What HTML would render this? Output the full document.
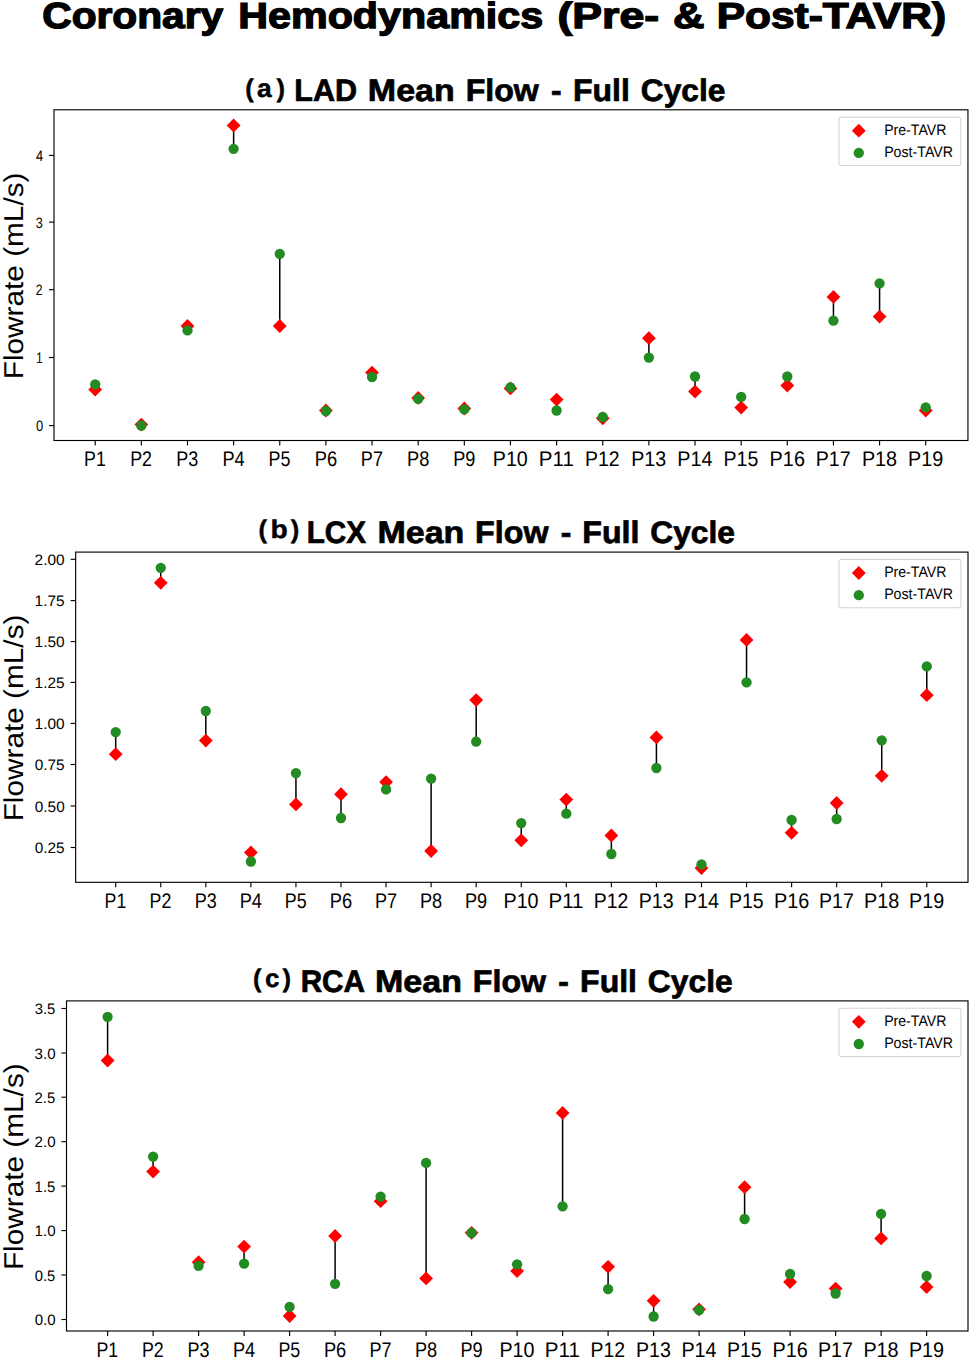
<!DOCTYPE html>
<html><head><meta charset="utf-8"><title>Coronary Hemodynamics (Pre- &amp; Post-TAVR)</title>
<style>
html,body{margin:0;padding:0;background:#fff;}
body{width:971px;height:1360px;overflow:hidden;}
svg{display:block;}
text{font-family:"Liberation Sans",sans-serif;fill:#000;}
.b{font-weight:bold;}
</style></head><body>
<svg width="971" height="1360" viewBox="0 0 971 1360" text-rendering="geometricPrecision">
<rect width="971" height="1360" fill="#fff"/>
<text class="b" x="42.26" y="28" font-size="36.3" textLength="181.02" lengthAdjust="spacingAndGlyphs" stroke="#000" stroke-width="1.3">Coronary</text>
<text class="b" x="238.31" y="28" font-size="36.3" textLength="304.84" lengthAdjust="spacingAndGlyphs" stroke="#000" stroke-width="1.3">Hemodynamics</text>
<text class="b" x="557.46" y="28" font-size="36.3" textLength="101.6" lengthAdjust="spacingAndGlyphs" stroke="#000" stroke-width="1.3">(Pre-</text>
<text class="b" x="673.1" y="28" font-size="36.3" textLength="31.46" lengthAdjust="spacingAndGlyphs" stroke="#000" stroke-width="1.3">&amp;</text>
<text class="b" x="716.76" y="28" font-size="36.3" textLength="229.31" lengthAdjust="spacingAndGlyphs" stroke="#000" stroke-width="1.3">Post-TAVR)</text>
<g>
<text class="b" x="245.15" y="97" font-size="25.5" stroke="#000" stroke-width="0.4">(</text>
<text class="b" x="257.08" y="97" font-size="25.5" textLength="14.69" lengthAdjust="spacingAndGlyphs" stroke="#000" stroke-width="0.4">a</text>
<text class="b" x="276.38" y="97" font-size="25.5" stroke="#000" stroke-width="0.4">)</text>
<text class="b" x="294.28" y="101" font-size="31.1" textLength="62.81" lengthAdjust="spacingAndGlyphs" stroke="#000" stroke-width="0.7">LAD</text>
<text class="b" x="367.89" y="101" font-size="31.1" textLength="86.83" lengthAdjust="spacingAndGlyphs" stroke="#000" stroke-width="0.7">Mean</text>
<text class="b" x="465.69" y="101" font-size="31.1" textLength="73.16" lengthAdjust="spacingAndGlyphs" stroke="#000" stroke-width="0.7">Flow</text>
<text class="b" x="551.14" y="101" font-size="31.1" textLength="10.54" lengthAdjust="spacingAndGlyphs" stroke="#000" stroke-width="0.7">-</text>
<text class="b" x="573" y="101" font-size="31.1" textLength="56.81" lengthAdjust="spacingAndGlyphs" stroke="#000" stroke-width="0.7">Full</text>
<text class="b" x="640.78" y="101" font-size="31.1" textLength="84.67" lengthAdjust="spacingAndGlyphs" stroke="#000" stroke-width="0.7">Cycle</text>
<text x="-103.75" y="0" font-size="27.3" textLength="206.79" lengthAdjust="spacingAndGlyphs" transform="translate(22.7 275.55) rotate(-90)">Flowrate (mL/s)</text>
<line x1="95.2" y1="389.6" x2="95.2" y2="384.3" stroke="#000" stroke-width="1.5"/>
<line x1="141.34" y1="424.6" x2="141.34" y2="425.5" stroke="#000" stroke-width="1.5"/>
<line x1="187.48" y1="326" x2="187.48" y2="330.4" stroke="#000" stroke-width="1.5"/>
<line x1="233.62" y1="125.5" x2="233.62" y2="148.8" stroke="#000" stroke-width="1.5"/>
<line x1="279.76" y1="326" x2="279.76" y2="253.9" stroke="#000" stroke-width="1.5"/>
<line x1="325.9" y1="410.5" x2="325.9" y2="411" stroke="#000" stroke-width="1.5"/>
<line x1="372.04" y1="372.6" x2="372.04" y2="377" stroke="#000" stroke-width="1.5"/>
<line x1="418.18" y1="397.9" x2="418.18" y2="398.8" stroke="#000" stroke-width="1.5"/>
<line x1="464.32" y1="408.5" x2="464.32" y2="409.3" stroke="#000" stroke-width="1.5"/>
<line x1="510.46" y1="388.4" x2="510.46" y2="387.4" stroke="#000" stroke-width="1.5"/>
<line x1="556.6" y1="399.6" x2="556.6" y2="410.5" stroke="#000" stroke-width="1.5"/>
<line x1="602.74" y1="418.3" x2="602.74" y2="417" stroke="#000" stroke-width="1.5"/>
<line x1="648.88" y1="338.2" x2="648.88" y2="357.6" stroke="#000" stroke-width="1.5"/>
<line x1="695.02" y1="391.6" x2="695.02" y2="376.5" stroke="#000" stroke-width="1.5"/>
<line x1="741.16" y1="407.6" x2="741.16" y2="396.9" stroke="#000" stroke-width="1.5"/>
<line x1="787.3" y1="385.5" x2="787.3" y2="376.5" stroke="#000" stroke-width="1.5"/>
<line x1="833.44" y1="296.9" x2="833.44" y2="320.7" stroke="#000" stroke-width="1.5"/>
<line x1="879.58" y1="316.6" x2="879.58" y2="283.3" stroke="#000" stroke-width="1.5"/>
<line x1="925.72" y1="410.5" x2="925.72" y2="407.3" stroke="#000" stroke-width="1.5"/>
<path d="M95.2 382.7L102.1 389.6L95.2 396.5L88.3 389.6Z" fill="#ff0000"/>
<path d="M141.34 417.7L148.24 424.6L141.34 431.5L134.44 424.6Z" fill="#ff0000"/>
<path d="M187.48 319.1L194.38 326L187.48 332.9L180.58 326Z" fill="#ff0000"/>
<path d="M233.62 118.6L240.52 125.5L233.62 132.4L226.72 125.5Z" fill="#ff0000"/>
<path d="M279.76 319.1L286.66 326L279.76 332.9L272.86 326Z" fill="#ff0000"/>
<path d="M325.9 403.6L332.8 410.5L325.9 417.4L319 410.5Z" fill="#ff0000"/>
<path d="M372.04 365.7L378.94 372.6L372.04 379.5L365.14 372.6Z" fill="#ff0000"/>
<path d="M418.18 391L425.08 397.9L418.18 404.8L411.28 397.9Z" fill="#ff0000"/>
<path d="M464.32 401.6L471.22 408.5L464.32 415.4L457.42 408.5Z" fill="#ff0000"/>
<path d="M510.46 381.5L517.36 388.4L510.46 395.3L503.56 388.4Z" fill="#ff0000"/>
<path d="M556.6 392.7L563.5 399.6L556.6 406.5L549.7 399.6Z" fill="#ff0000"/>
<path d="M602.74 411.4L609.64 418.3L602.74 425.2L595.84 418.3Z" fill="#ff0000"/>
<path d="M648.88 331.3L655.78 338.2L648.88 345.1L641.98 338.2Z" fill="#ff0000"/>
<path d="M695.02 384.7L701.92 391.6L695.02 398.5L688.12 391.6Z" fill="#ff0000"/>
<path d="M741.16 400.7L748.06 407.6L741.16 414.5L734.26 407.6Z" fill="#ff0000"/>
<path d="M787.3 378.6L794.2 385.5L787.3 392.4L780.4 385.5Z" fill="#ff0000"/>
<path d="M833.44 290L840.34 296.9L833.44 303.8L826.54 296.9Z" fill="#ff0000"/>
<path d="M879.58 309.7L886.48 316.6L879.58 323.5L872.68 316.6Z" fill="#ff0000"/>
<path d="M925.72 403.6L932.62 410.5L925.72 417.4L918.82 410.5Z" fill="#ff0000"/>
<circle cx="95.2" cy="384.3" r="5.15" fill="#228b22"/>
<circle cx="141.34" cy="425.5" r="5.15" fill="#228b22"/>
<circle cx="187.48" cy="330.4" r="5.15" fill="#228b22"/>
<circle cx="233.62" cy="148.8" r="5.15" fill="#228b22"/>
<circle cx="279.76" cy="253.9" r="5.15" fill="#228b22"/>
<circle cx="325.9" cy="411" r="5.15" fill="#228b22"/>
<circle cx="372.04" cy="377" r="5.15" fill="#228b22"/>
<circle cx="418.18" cy="398.8" r="5.15" fill="#228b22"/>
<circle cx="464.32" cy="409.3" r="5.15" fill="#228b22"/>
<circle cx="510.46" cy="387.4" r="5.15" fill="#228b22"/>
<circle cx="556.6" cy="410.5" r="5.15" fill="#228b22"/>
<circle cx="602.74" cy="417" r="5.15" fill="#228b22"/>
<circle cx="648.88" cy="357.6" r="5.15" fill="#228b22"/>
<circle cx="695.02" cy="376.5" r="5.15" fill="#228b22"/>
<circle cx="741.16" cy="396.9" r="5.15" fill="#228b22"/>
<circle cx="787.3" cy="376.5" r="5.15" fill="#228b22"/>
<circle cx="833.44" cy="320.7" r="5.15" fill="#228b22"/>
<circle cx="879.58" cy="283.3" r="5.15" fill="#228b22"/>
<circle cx="925.72" cy="407.3" r="5.15" fill="#228b22"/>
<rect x="54" y="109.8" width="913.95" height="330.7" fill="none" stroke="#000" stroke-width="1.14"/>
<line x1="95.2" y1="440.5" x2="95.2" y2="445.5" stroke="#000" stroke-width="1.14"/>
<text x="84.05" y="466.1" font-size="21.2" textLength="21.71" lengthAdjust="spacingAndGlyphs">P1</text>
<line x1="141.34" y1="440.5" x2="141.34" y2="445.5" stroke="#000" stroke-width="1.14"/>
<text x="130.19" y="466.1" font-size="21.2" textLength="21.77" lengthAdjust="spacingAndGlyphs">P2</text>
<line x1="187.48" y1="440.5" x2="187.48" y2="445.5" stroke="#000" stroke-width="1.14"/>
<text x="176.32" y="466.1" font-size="21.2" textLength="21.99" lengthAdjust="spacingAndGlyphs">P3</text>
<line x1="233.62" y1="440.5" x2="233.62" y2="445.5" stroke="#000" stroke-width="1.14"/>
<text x="222.44" y="466.1" font-size="21.2" textLength="22.28" lengthAdjust="spacingAndGlyphs">P4</text>
<line x1="279.76" y1="440.5" x2="279.76" y2="445.5" stroke="#000" stroke-width="1.14"/>
<text x="268.61" y="466.1" font-size="21.2" textLength="21.82" lengthAdjust="spacingAndGlyphs">P5</text>
<line x1="325.9" y1="440.5" x2="325.9" y2="445.5" stroke="#000" stroke-width="1.14"/>
<text x="314.71" y="466.1" font-size="21.2" textLength="22.37" lengthAdjust="spacingAndGlyphs">P6</text>
<line x1="372.04" y1="440.5" x2="372.04" y2="445.5" stroke="#000" stroke-width="1.14"/>
<text x="360.87" y="466.1" font-size="21.2" textLength="22.1" lengthAdjust="spacingAndGlyphs">P7</text>
<line x1="418.18" y1="440.5" x2="418.18" y2="445.5" stroke="#000" stroke-width="1.14"/>
<text x="407" y="466.1" font-size="21.2" textLength="22.25" lengthAdjust="spacingAndGlyphs">P8</text>
<line x1="464.32" y1="440.5" x2="464.32" y2="445.5" stroke="#000" stroke-width="1.14"/>
<text x="453.14" y="466.1" font-size="21.2" textLength="22.2" lengthAdjust="spacingAndGlyphs">P9</text>
<line x1="510.46" y1="440.5" x2="510.46" y2="445.5" stroke="#000" stroke-width="1.14"/>
<text x="492.79" y="466.1" font-size="21.2" textLength="35" lengthAdjust="spacingAndGlyphs">P10</text>
<line x1="556.6" y1="440.5" x2="556.6" y2="445.5" stroke="#000" stroke-width="1.14"/>
<text x="538.86" y="466.1" font-size="21.2" textLength="35" lengthAdjust="spacingAndGlyphs">P11</text>
<line x1="602.74" y1="440.5" x2="602.74" y2="445.5" stroke="#000" stroke-width="1.14"/>
<text x="585.1" y="466.1" font-size="21.2" textLength="34.52" lengthAdjust="spacingAndGlyphs">P12</text>
<line x1="648.88" y1="440.5" x2="648.88" y2="445.5" stroke="#000" stroke-width="1.14"/>
<text x="631.22" y="466.1" font-size="21.2" textLength="34.95" lengthAdjust="spacingAndGlyphs">P13</text>
<line x1="695.02" y1="440.5" x2="695.02" y2="445.5" stroke="#000" stroke-width="1.14"/>
<text x="677.34" y="466.1" font-size="21.2" textLength="35.22" lengthAdjust="spacingAndGlyphs">P14</text>
<line x1="741.16" y1="440.5" x2="741.16" y2="445.5" stroke="#000" stroke-width="1.14"/>
<text x="723.5" y="466.1" font-size="21.2" textLength="34.79" lengthAdjust="spacingAndGlyphs">P15</text>
<line x1="787.3" y1="440.5" x2="787.3" y2="445.5" stroke="#000" stroke-width="1.14"/>
<text x="769.62" y="466.1" font-size="21.2" textLength="35.32" lengthAdjust="spacingAndGlyphs">P16</text>
<line x1="833.44" y1="440.5" x2="833.44" y2="445.5" stroke="#000" stroke-width="1.14"/>
<text x="815.78" y="466.1" font-size="21.2" textLength="34.84" lengthAdjust="spacingAndGlyphs">P17</text>
<line x1="879.58" y1="440.5" x2="879.58" y2="445.5" stroke="#000" stroke-width="1.14"/>
<text x="861.9" y="466.1" font-size="21.2" textLength="35.2" lengthAdjust="spacingAndGlyphs">P18</text>
<line x1="925.72" y1="440.5" x2="925.72" y2="445.5" stroke="#000" stroke-width="1.14"/>
<text x="908.05" y="466.1" font-size="21.2" textLength="35.16" lengthAdjust="spacingAndGlyphs">P19</text>
<line x1="49" y1="425.6" x2="54" y2="425.6" stroke="#000" stroke-width="1.14"/>
<text x="35.92" y="431.3" font-size="15.15" textLength="7.2" lengthAdjust="spacingAndGlyphs">0</text>
<line x1="49" y1="357.5" x2="54" y2="357.5" stroke="#000" stroke-width="1.14"/>
<text x="35.98" y="363.2" font-size="15.15" textLength="6.74" lengthAdjust="spacingAndGlyphs">1</text>
<line x1="49" y1="289.7" x2="54" y2="289.7" stroke="#000" stroke-width="1.14"/>
<text x="35.85" y="295.4" font-size="15.15" textLength="6.76" lengthAdjust="spacingAndGlyphs">2</text>
<line x1="49" y1="222.1" x2="54" y2="222.1" stroke="#000" stroke-width="1.14"/>
<text x="35.87" y="227.8" font-size="15.15" textLength="7.05" lengthAdjust="spacingAndGlyphs">3</text>
<line x1="49" y1="155.4" x2="54" y2="155.4" stroke="#000" stroke-width="1.14"/>
<text x="35.89" y="161.1" font-size="15.15" textLength="7.16" lengthAdjust="spacingAndGlyphs">4</text>
<rect x="839" y="117.1" width="121.8" height="48.4" rx="2.5" fill="#fff" fill-opacity="0.8" stroke="#d6d6d6" stroke-width="1.1"/>
<path d="M858.8 123.8L865.7 130.7L858.8 137.6L851.9 130.7Z" fill="#ff0000"/>
<circle cx="858.8" cy="152.9" r="5.15" fill="#228b22"/>
<text x="884.13" y="134.6" font-size="15.15" textLength="62.25" lengthAdjust="spacingAndGlyphs">Pre-TAVR</text>
<text x="884.13" y="156.7" font-size="15.15" textLength="68.96" lengthAdjust="spacingAndGlyphs">Post-TAVR</text>
</g>
<g>
<text class="b" x="258.48" y="538" font-size="25.5" stroke="#000" stroke-width="0.4">(</text>
<text class="b" x="270.54" y="538" font-size="25.5" textLength="17.28" lengthAdjust="spacingAndGlyphs" stroke="#000" stroke-width="0.4">b</text>
<text class="b" x="290.77" y="538" font-size="25.5" stroke="#000" stroke-width="0.4">)</text>
<text class="b" x="306.63" y="543" font-size="31.1" textLength="59.47" lengthAdjust="spacingAndGlyphs" stroke="#000" stroke-width="0.7">LCX</text>
<text class="b" x="377.49" y="543" font-size="31.1" textLength="86.83" lengthAdjust="spacingAndGlyphs" stroke="#000" stroke-width="0.7">Mean</text>
<text class="b" x="475.09" y="543" font-size="31.1" textLength="73.36" lengthAdjust="spacingAndGlyphs" stroke="#000" stroke-width="0.7">Flow</text>
<text class="b" x="560.74" y="543" font-size="31.1" textLength="10.54" lengthAdjust="spacingAndGlyphs" stroke="#000" stroke-width="0.7">-</text>
<text class="b" x="582.29" y="543" font-size="31.1" textLength="57.13" lengthAdjust="spacingAndGlyphs" stroke="#000" stroke-width="0.7">Full</text>
<text class="b" x="650.18" y="543" font-size="31.1" textLength="84.87" lengthAdjust="spacingAndGlyphs" stroke="#000" stroke-width="0.7">Cycle</text>
<text x="-103.75" y="0" font-size="27.3" textLength="206.79" lengthAdjust="spacingAndGlyphs" transform="translate(22.7 717.6) rotate(-90)">Flowrate (mL/s)</text>
<line x1="115.7" y1="754.2" x2="115.7" y2="732.1" stroke="#000" stroke-width="1.5"/>
<line x1="160.76" y1="582.8" x2="160.76" y2="567.8" stroke="#000" stroke-width="1.5"/>
<line x1="205.82" y1="740.6" x2="205.82" y2="711" stroke="#000" stroke-width="1.5"/>
<line x1="250.88" y1="852.5" x2="250.88" y2="861.5" stroke="#000" stroke-width="1.5"/>
<line x1="295.94" y1="804.4" x2="295.94" y2="773.1" stroke="#000" stroke-width="1.5"/>
<line x1="341" y1="794.2" x2="341" y2="818" stroke="#000" stroke-width="1.5"/>
<line x1="386.06" y1="782.1" x2="386.06" y2="789.4" stroke="#000" stroke-width="1.5"/>
<line x1="431.12" y1="851" x2="431.12" y2="778.7" stroke="#000" stroke-width="1.5"/>
<line x1="476.18" y1="700.1" x2="476.18" y2="741.6" stroke="#000" stroke-width="1.5"/>
<line x1="521.24" y1="840.3" x2="521.24" y2="823.1" stroke="#000" stroke-width="1.5"/>
<line x1="566.3" y1="799.6" x2="566.3" y2="813.7" stroke="#000" stroke-width="1.5"/>
<line x1="611.36" y1="835.5" x2="611.36" y2="854" stroke="#000" stroke-width="1.5"/>
<line x1="656.42" y1="737.4" x2="656.42" y2="768" stroke="#000" stroke-width="1.5"/>
<line x1="701.48" y1="868" x2="701.48" y2="864.4" stroke="#000" stroke-width="1.5"/>
<line x1="746.54" y1="639.9" x2="746.54" y2="682.3" stroke="#000" stroke-width="1.5"/>
<line x1="791.6" y1="832.8" x2="791.6" y2="820" stroke="#000" stroke-width="1.5"/>
<line x1="836.66" y1="803" x2="836.66" y2="819" stroke="#000" stroke-width="1.5"/>
<line x1="881.72" y1="775.8" x2="881.72" y2="740.3" stroke="#000" stroke-width="1.5"/>
<line x1="926.78" y1="695.2" x2="926.78" y2="666.3" stroke="#000" stroke-width="1.5"/>
<path d="M115.7 747.3L122.6 754.2L115.7 761.1L108.8 754.2Z" fill="#ff0000"/>
<path d="M160.76 575.9L167.66 582.8L160.76 589.7L153.86 582.8Z" fill="#ff0000"/>
<path d="M205.82 733.7L212.72 740.6L205.82 747.5L198.92 740.6Z" fill="#ff0000"/>
<path d="M250.88 845.6L257.78 852.5L250.88 859.4L243.98 852.5Z" fill="#ff0000"/>
<path d="M295.94 797.5L302.84 804.4L295.94 811.3L289.04 804.4Z" fill="#ff0000"/>
<path d="M341 787.3L347.9 794.2L341 801.1L334.1 794.2Z" fill="#ff0000"/>
<path d="M386.06 775.2L392.96 782.1L386.06 789L379.16 782.1Z" fill="#ff0000"/>
<path d="M431.12 844.1L438.02 851L431.12 857.9L424.22 851Z" fill="#ff0000"/>
<path d="M476.18 693.2L483.08 700.1L476.18 707L469.28 700.1Z" fill="#ff0000"/>
<path d="M521.24 833.4L528.14 840.3L521.24 847.2L514.34 840.3Z" fill="#ff0000"/>
<path d="M566.3 792.7L573.2 799.6L566.3 806.5L559.4 799.6Z" fill="#ff0000"/>
<path d="M611.36 828.6L618.26 835.5L611.36 842.4L604.46 835.5Z" fill="#ff0000"/>
<path d="M656.42 730.5L663.32 737.4L656.42 744.3L649.52 737.4Z" fill="#ff0000"/>
<path d="M701.48 861.1L708.38 868L701.48 874.9L694.58 868Z" fill="#ff0000"/>
<path d="M746.54 633L753.44 639.9L746.54 646.8L739.64 639.9Z" fill="#ff0000"/>
<path d="M791.6 825.9L798.5 832.8L791.6 839.7L784.7 832.8Z" fill="#ff0000"/>
<path d="M836.66 796.1L843.56 803L836.66 809.9L829.76 803Z" fill="#ff0000"/>
<path d="M881.72 768.9L888.62 775.8L881.72 782.7L874.82 775.8Z" fill="#ff0000"/>
<path d="M926.78 688.3L933.68 695.2L926.78 702.1L919.88 695.2Z" fill="#ff0000"/>
<circle cx="115.7" cy="732.1" r="5.15" fill="#228b22"/>
<circle cx="160.76" cy="567.8" r="5.15" fill="#228b22"/>
<circle cx="205.82" cy="711" r="5.15" fill="#228b22"/>
<circle cx="250.88" cy="861.5" r="5.15" fill="#228b22"/>
<circle cx="295.94" cy="773.1" r="5.15" fill="#228b22"/>
<circle cx="341" cy="818" r="5.15" fill="#228b22"/>
<circle cx="386.06" cy="789.4" r="5.15" fill="#228b22"/>
<circle cx="431.12" cy="778.7" r="5.15" fill="#228b22"/>
<circle cx="476.18" cy="741.6" r="5.15" fill="#228b22"/>
<circle cx="521.24" cy="823.1" r="5.15" fill="#228b22"/>
<circle cx="566.3" cy="813.7" r="5.15" fill="#228b22"/>
<circle cx="611.36" cy="854" r="5.15" fill="#228b22"/>
<circle cx="656.42" cy="768" r="5.15" fill="#228b22"/>
<circle cx="701.48" cy="864.4" r="5.15" fill="#228b22"/>
<circle cx="746.54" cy="682.3" r="5.15" fill="#228b22"/>
<circle cx="791.6" cy="820" r="5.15" fill="#228b22"/>
<circle cx="836.66" cy="819" r="5.15" fill="#228b22"/>
<circle cx="881.72" cy="740.3" r="5.15" fill="#228b22"/>
<circle cx="926.78" cy="666.3" r="5.15" fill="#228b22"/>
<rect x="75.65" y="552.1" width="892.35" height="330.2" fill="none" stroke="#000" stroke-width="1.14"/>
<line x1="115.7" y1="882.3" x2="115.7" y2="887.3" stroke="#000" stroke-width="1.14"/>
<text x="104.55" y="907.9" font-size="21.2" textLength="21.71" lengthAdjust="spacingAndGlyphs">P1</text>
<line x1="160.76" y1="882.3" x2="160.76" y2="887.3" stroke="#000" stroke-width="1.14"/>
<text x="149.61" y="907.9" font-size="21.2" textLength="21.77" lengthAdjust="spacingAndGlyphs">P2</text>
<line x1="205.82" y1="882.3" x2="205.82" y2="887.3" stroke="#000" stroke-width="1.14"/>
<text x="194.66" y="907.9" font-size="21.2" textLength="21.99" lengthAdjust="spacingAndGlyphs">P3</text>
<line x1="250.88" y1="882.3" x2="250.88" y2="887.3" stroke="#000" stroke-width="1.14"/>
<text x="239.7" y="907.9" font-size="21.2" textLength="22.28" lengthAdjust="spacingAndGlyphs">P4</text>
<line x1="295.94" y1="882.3" x2="295.94" y2="887.3" stroke="#000" stroke-width="1.14"/>
<text x="284.79" y="907.9" font-size="21.2" textLength="21.82" lengthAdjust="spacingAndGlyphs">P5</text>
<line x1="341" y1="882.3" x2="341" y2="887.3" stroke="#000" stroke-width="1.14"/>
<text x="329.81" y="907.9" font-size="21.2" textLength="22.37" lengthAdjust="spacingAndGlyphs">P6</text>
<line x1="386.06" y1="882.3" x2="386.06" y2="887.3" stroke="#000" stroke-width="1.14"/>
<text x="374.89" y="907.9" font-size="21.2" textLength="22.1" lengthAdjust="spacingAndGlyphs">P7</text>
<line x1="431.12" y1="882.3" x2="431.12" y2="887.3" stroke="#000" stroke-width="1.14"/>
<text x="419.94" y="907.9" font-size="21.2" textLength="22.25" lengthAdjust="spacingAndGlyphs">P8</text>
<line x1="476.18" y1="882.3" x2="476.18" y2="887.3" stroke="#000" stroke-width="1.14"/>
<text x="465" y="907.9" font-size="21.2" textLength="22.2" lengthAdjust="spacingAndGlyphs">P9</text>
<line x1="521.24" y1="882.3" x2="521.24" y2="887.3" stroke="#000" stroke-width="1.14"/>
<text x="503.57" y="907.9" font-size="21.2" textLength="35" lengthAdjust="spacingAndGlyphs">P10</text>
<line x1="566.3" y1="882.3" x2="566.3" y2="887.3" stroke="#000" stroke-width="1.14"/>
<text x="548.56" y="907.9" font-size="21.2" textLength="35" lengthAdjust="spacingAndGlyphs">P11</text>
<line x1="611.36" y1="882.3" x2="611.36" y2="887.3" stroke="#000" stroke-width="1.14"/>
<text x="593.72" y="907.9" font-size="21.2" textLength="34.52" lengthAdjust="spacingAndGlyphs">P12</text>
<line x1="656.42" y1="882.3" x2="656.42" y2="887.3" stroke="#000" stroke-width="1.14"/>
<text x="638.76" y="907.9" font-size="21.2" textLength="34.95" lengthAdjust="spacingAndGlyphs">P13</text>
<line x1="701.48" y1="882.3" x2="701.48" y2="887.3" stroke="#000" stroke-width="1.14"/>
<text x="683.8" y="907.9" font-size="21.2" textLength="35.22" lengthAdjust="spacingAndGlyphs">P14</text>
<line x1="746.54" y1="882.3" x2="746.54" y2="887.3" stroke="#000" stroke-width="1.14"/>
<text x="728.88" y="907.9" font-size="21.2" textLength="34.79" lengthAdjust="spacingAndGlyphs">P15</text>
<line x1="791.6" y1="882.3" x2="791.6" y2="887.3" stroke="#000" stroke-width="1.14"/>
<text x="773.92" y="907.9" font-size="21.2" textLength="35.32" lengthAdjust="spacingAndGlyphs">P16</text>
<line x1="836.66" y1="882.3" x2="836.66" y2="887.3" stroke="#000" stroke-width="1.14"/>
<text x="819" y="907.9" font-size="21.2" textLength="34.84" lengthAdjust="spacingAndGlyphs">P17</text>
<line x1="881.72" y1="882.3" x2="881.72" y2="887.3" stroke="#000" stroke-width="1.14"/>
<text x="864.04" y="907.9" font-size="21.2" textLength="35.2" lengthAdjust="spacingAndGlyphs">P18</text>
<line x1="926.78" y1="882.3" x2="926.78" y2="887.3" stroke="#000" stroke-width="1.14"/>
<text x="909.11" y="907.9" font-size="21.2" textLength="35.16" lengthAdjust="spacingAndGlyphs">P19</text>
<line x1="70.65" y1="559.3" x2="75.65" y2="559.3" stroke="#000" stroke-width="1.14"/>
<text x="34.61" y="565" font-size="15.15" textLength="30.07" lengthAdjust="spacingAndGlyphs">2.00</text>
<line x1="70.65" y1="600.6" x2="75.65" y2="600.6" stroke="#000" stroke-width="1.14"/>
<text x="34.63" y="606.3" font-size="15.15" textLength="30" lengthAdjust="spacingAndGlyphs">1.75</text>
<line x1="70.65" y1="641.6" x2="75.65" y2="641.6" stroke="#000" stroke-width="1.14"/>
<text x="34.63" y="647.3" font-size="15.15" textLength="30.05" lengthAdjust="spacingAndGlyphs">1.50</text>
<line x1="70.65" y1="682.4" x2="75.65" y2="682.4" stroke="#000" stroke-width="1.14"/>
<text x="34.63" y="688.1" font-size="15.15" textLength="30" lengthAdjust="spacingAndGlyphs">1.25</text>
<line x1="70.65" y1="723.4" x2="75.65" y2="723.4" stroke="#000" stroke-width="1.14"/>
<text x="34.63" y="729.1" font-size="15.15" textLength="30.05" lengthAdjust="spacingAndGlyphs">1.00</text>
<line x1="70.65" y1="764.5" x2="75.65" y2="764.5" stroke="#000" stroke-width="1.14"/>
<text x="34.77" y="770.2" font-size="15.15" textLength="29.86" lengthAdjust="spacingAndGlyphs">0.75</text>
<line x1="70.65" y1="806" x2="75.65" y2="806" stroke="#000" stroke-width="1.14"/>
<text x="34.77" y="811.7" font-size="15.15" textLength="29.91" lengthAdjust="spacingAndGlyphs">0.50</text>
<line x1="70.65" y1="847.5" x2="75.65" y2="847.5" stroke="#000" stroke-width="1.14"/>
<text x="34.77" y="853.2" font-size="15.15" textLength="29.86" lengthAdjust="spacingAndGlyphs">0.25</text>
<rect x="839" y="559.4" width="121.8" height="48.4" rx="2.5" fill="#fff" fill-opacity="0.8" stroke="#d6d6d6" stroke-width="1.1"/>
<path d="M858.8 566.1L865.7 573L858.8 579.9L851.9 573Z" fill="#ff0000"/>
<circle cx="858.8" cy="595.2" r="5.15" fill="#228b22"/>
<text x="884.13" y="576.9" font-size="15.15" textLength="62.25" lengthAdjust="spacingAndGlyphs">Pre-TAVR</text>
<text x="884.13" y="599" font-size="15.15" textLength="68.96" lengthAdjust="spacingAndGlyphs">Post-TAVR</text>
</g>
<g>
<text class="b" x="253" y="987" font-size="25.5" stroke="#000" stroke-width="0.4">(</text>
<text class="b" x="265.14" y="987" font-size="25.5" textLength="14.47" lengthAdjust="spacingAndGlyphs" stroke="#000" stroke-width="0.4">c</text>
<text class="b" x="282.38" y="987" font-size="25.5" stroke="#000" stroke-width="0.4">)</text>
<text class="b" x="300.63" y="992" font-size="31.1" textLength="64.43" lengthAdjust="spacingAndGlyphs" stroke="#000" stroke-width="0.7">RCA</text>
<text class="b" x="375.09" y="992" font-size="31.1" textLength="86.83" lengthAdjust="spacingAndGlyphs" stroke="#000" stroke-width="0.7">Mean</text>
<text class="b" x="472.89" y="992" font-size="31.1" textLength="73.16" lengthAdjust="spacingAndGlyphs" stroke="#000" stroke-width="0.7">Flow</text>
<text class="b" x="558.34" y="992" font-size="31.1" textLength="10.54" lengthAdjust="spacingAndGlyphs" stroke="#000" stroke-width="0.7">-</text>
<text class="b" x="580.1" y="992" font-size="31.1" textLength="56.92" lengthAdjust="spacingAndGlyphs" stroke="#000" stroke-width="0.7">Full</text>
<text class="b" x="647.88" y="992" font-size="31.1" textLength="84.77" lengthAdjust="spacingAndGlyphs" stroke="#000" stroke-width="0.7">Cycle</text>
<text x="-103.75" y="0" font-size="27.3" textLength="206.79" lengthAdjust="spacingAndGlyphs" transform="translate(22.7 1166.35) rotate(-90)">Flowrate (mL/s)</text>
<line x1="107.6" y1="1060.5" x2="107.6" y2="1016.8" stroke="#000" stroke-width="1.5"/>
<line x1="153.1" y1="1171.6" x2="153.1" y2="1156.6" stroke="#000" stroke-width="1.5"/>
<line x1="198.6" y1="1262.2" x2="198.6" y2="1265.8" stroke="#000" stroke-width="1.5"/>
<line x1="244.1" y1="1246.6" x2="244.1" y2="1263.6" stroke="#000" stroke-width="1.5"/>
<line x1="289.6" y1="1316" x2="289.6" y2="1306.8" stroke="#000" stroke-width="1.5"/>
<line x1="335.1" y1="1236" x2="335.1" y2="1283.8" stroke="#000" stroke-width="1.5"/>
<line x1="380.6" y1="1201.2" x2="380.6" y2="1196.6" stroke="#000" stroke-width="1.5"/>
<line x1="426.1" y1="1278.4" x2="426.1" y2="1162.9" stroke="#000" stroke-width="1.5"/>
<line x1="471.6" y1="1232.8" x2="471.6" y2="1232.8" stroke="#000" stroke-width="1.5"/>
<line x1="517.1" y1="1271.1" x2="517.1" y2="1264.3" stroke="#000" stroke-width="1.5"/>
<line x1="562.6" y1="1112.9" x2="562.6" y2="1206.3" stroke="#000" stroke-width="1.5"/>
<line x1="608.1" y1="1266.8" x2="608.1" y2="1289.1" stroke="#000" stroke-width="1.5"/>
<line x1="653.6" y1="1300.8" x2="653.6" y2="1316.5" stroke="#000" stroke-width="1.5"/>
<line x1="699.1" y1="1309.3" x2="699.1" y2="1310" stroke="#000" stroke-width="1.5"/>
<line x1="744.6" y1="1187.2" x2="744.6" y2="1219" stroke="#000" stroke-width="1.5"/>
<line x1="790.1" y1="1282" x2="790.1" y2="1274" stroke="#000" stroke-width="1.5"/>
<line x1="835.6" y1="1288.6" x2="835.6" y2="1293.5" stroke="#000" stroke-width="1.5"/>
<line x1="881.1" y1="1238.4" x2="881.1" y2="1213.9" stroke="#000" stroke-width="1.5"/>
<line x1="926.6" y1="1287" x2="926.6" y2="1276" stroke="#000" stroke-width="1.5"/>
<path d="M107.6 1053.6L114.5 1060.5L107.6 1067.4L100.7 1060.5Z" fill="#ff0000"/>
<path d="M153.1 1164.7L160 1171.6L153.1 1178.5L146.2 1171.6Z" fill="#ff0000"/>
<path d="M198.6 1255.3L205.5 1262.2L198.6 1269.1L191.7 1262.2Z" fill="#ff0000"/>
<path d="M244.1 1239.7L251 1246.6L244.1 1253.5L237.2 1246.6Z" fill="#ff0000"/>
<path d="M289.6 1309.1L296.5 1316L289.6 1322.9L282.7 1316Z" fill="#ff0000"/>
<path d="M335.1 1229.1L342 1236L335.1 1242.9L328.2 1236Z" fill="#ff0000"/>
<path d="M380.6 1194.3L387.5 1201.2L380.6 1208.1L373.7 1201.2Z" fill="#ff0000"/>
<path d="M426.1 1271.5L433 1278.4L426.1 1285.3L419.2 1278.4Z" fill="#ff0000"/>
<path d="M471.6 1225.9L478.5 1232.8L471.6 1239.7L464.7 1232.8Z" fill="#ff0000"/>
<path d="M517.1 1264.2L524 1271.1L517.1 1278L510.2 1271.1Z" fill="#ff0000"/>
<path d="M562.6 1106L569.5 1112.9L562.6 1119.8L555.7 1112.9Z" fill="#ff0000"/>
<path d="M608.1 1259.9L615 1266.8L608.1 1273.7L601.2 1266.8Z" fill="#ff0000"/>
<path d="M653.6 1293.9L660.5 1300.8L653.6 1307.7L646.7 1300.8Z" fill="#ff0000"/>
<path d="M699.1 1302.4L706 1309.3L699.1 1316.2L692.2 1309.3Z" fill="#ff0000"/>
<path d="M744.6 1180.3L751.5 1187.2L744.6 1194.1L737.7 1187.2Z" fill="#ff0000"/>
<path d="M790.1 1275.1L797 1282L790.1 1288.9L783.2 1282Z" fill="#ff0000"/>
<path d="M835.6 1281.7L842.5 1288.6L835.6 1295.5L828.7 1288.6Z" fill="#ff0000"/>
<path d="M881.1 1231.5L888 1238.4L881.1 1245.3L874.2 1238.4Z" fill="#ff0000"/>
<path d="M926.6 1280.1L933.5 1287L926.6 1293.9L919.7 1287Z" fill="#ff0000"/>
<circle cx="107.6" cy="1016.8" r="5.15" fill="#228b22"/>
<circle cx="153.1" cy="1156.6" r="5.15" fill="#228b22"/>
<circle cx="198.6" cy="1265.8" r="5.15" fill="#228b22"/>
<circle cx="244.1" cy="1263.6" r="5.15" fill="#228b22"/>
<circle cx="289.6" cy="1306.8" r="5.15" fill="#228b22"/>
<circle cx="335.1" cy="1283.8" r="5.15" fill="#228b22"/>
<circle cx="380.6" cy="1196.6" r="5.15" fill="#228b22"/>
<circle cx="426.1" cy="1162.9" r="5.15" fill="#228b22"/>
<circle cx="471.6" cy="1232.8" r="5.15" fill="#228b22"/>
<circle cx="517.1" cy="1264.3" r="5.15" fill="#228b22"/>
<circle cx="562.6" cy="1206.3" r="5.15" fill="#228b22"/>
<circle cx="608.1" cy="1289.1" r="5.15" fill="#228b22"/>
<circle cx="653.6" cy="1316.5" r="5.15" fill="#228b22"/>
<circle cx="699.1" cy="1310" r="5.15" fill="#228b22"/>
<circle cx="744.6" cy="1219" r="5.15" fill="#228b22"/>
<circle cx="790.1" cy="1274" r="5.15" fill="#228b22"/>
<circle cx="835.6" cy="1293.5" r="5.15" fill="#228b22"/>
<circle cx="881.1" cy="1213.9" r="5.15" fill="#228b22"/>
<circle cx="926.6" cy="1276" r="5.15" fill="#228b22"/>
<rect x="66.5" y="1000.9" width="901.5" height="330.1" fill="none" stroke="#000" stroke-width="1.14"/>
<line x1="107.6" y1="1331" x2="107.6" y2="1336" stroke="#000" stroke-width="1.14"/>
<text x="96.45" y="1356.6" font-size="21.2" textLength="21.71" lengthAdjust="spacingAndGlyphs">P1</text>
<line x1="153.1" y1="1331" x2="153.1" y2="1336" stroke="#000" stroke-width="1.14"/>
<text x="141.95" y="1356.6" font-size="21.2" textLength="21.77" lengthAdjust="spacingAndGlyphs">P2</text>
<line x1="198.6" y1="1331" x2="198.6" y2="1336" stroke="#000" stroke-width="1.14"/>
<text x="187.44" y="1356.6" font-size="21.2" textLength="21.99" lengthAdjust="spacingAndGlyphs">P3</text>
<line x1="244.1" y1="1331" x2="244.1" y2="1336" stroke="#000" stroke-width="1.14"/>
<text x="232.92" y="1356.6" font-size="21.2" textLength="22.28" lengthAdjust="spacingAndGlyphs">P4</text>
<line x1="289.6" y1="1331" x2="289.6" y2="1336" stroke="#000" stroke-width="1.14"/>
<text x="278.45" y="1356.6" font-size="21.2" textLength="21.82" lengthAdjust="spacingAndGlyphs">P5</text>
<line x1="335.1" y1="1331" x2="335.1" y2="1336" stroke="#000" stroke-width="1.14"/>
<text x="323.91" y="1356.6" font-size="21.2" textLength="22.37" lengthAdjust="spacingAndGlyphs">P6</text>
<line x1="380.6" y1="1331" x2="380.6" y2="1336" stroke="#000" stroke-width="1.14"/>
<text x="369.43" y="1356.6" font-size="21.2" textLength="22.1" lengthAdjust="spacingAndGlyphs">P7</text>
<line x1="426.1" y1="1331" x2="426.1" y2="1336" stroke="#000" stroke-width="1.14"/>
<text x="414.92" y="1356.6" font-size="21.2" textLength="22.25" lengthAdjust="spacingAndGlyphs">P8</text>
<line x1="471.6" y1="1331" x2="471.6" y2="1336" stroke="#000" stroke-width="1.14"/>
<text x="460.42" y="1356.6" font-size="21.2" textLength="22.2" lengthAdjust="spacingAndGlyphs">P9</text>
<line x1="517.1" y1="1331" x2="517.1" y2="1336" stroke="#000" stroke-width="1.14"/>
<text x="499.43" y="1356.6" font-size="21.2" textLength="35" lengthAdjust="spacingAndGlyphs">P10</text>
<line x1="562.6" y1="1331" x2="562.6" y2="1336" stroke="#000" stroke-width="1.14"/>
<text x="544.86" y="1356.6" font-size="21.2" textLength="35" lengthAdjust="spacingAndGlyphs">P11</text>
<line x1="608.1" y1="1331" x2="608.1" y2="1336" stroke="#000" stroke-width="1.14"/>
<text x="590.46" y="1356.6" font-size="21.2" textLength="34.52" lengthAdjust="spacingAndGlyphs">P12</text>
<line x1="653.6" y1="1331" x2="653.6" y2="1336" stroke="#000" stroke-width="1.14"/>
<text x="635.94" y="1356.6" font-size="21.2" textLength="34.95" lengthAdjust="spacingAndGlyphs">P13</text>
<line x1="699.1" y1="1331" x2="699.1" y2="1336" stroke="#000" stroke-width="1.14"/>
<text x="681.42" y="1356.6" font-size="21.2" textLength="35.22" lengthAdjust="spacingAndGlyphs">P14</text>
<line x1="744.6" y1="1331" x2="744.6" y2="1336" stroke="#000" stroke-width="1.14"/>
<text x="726.94" y="1356.6" font-size="21.2" textLength="34.79" lengthAdjust="spacingAndGlyphs">P15</text>
<line x1="790.1" y1="1331" x2="790.1" y2="1336" stroke="#000" stroke-width="1.14"/>
<text x="772.42" y="1356.6" font-size="21.2" textLength="35.32" lengthAdjust="spacingAndGlyphs">P16</text>
<line x1="835.6" y1="1331" x2="835.6" y2="1336" stroke="#000" stroke-width="1.14"/>
<text x="817.94" y="1356.6" font-size="21.2" textLength="34.84" lengthAdjust="spacingAndGlyphs">P17</text>
<line x1="881.1" y1="1331" x2="881.1" y2="1336" stroke="#000" stroke-width="1.14"/>
<text x="863.42" y="1356.6" font-size="21.2" textLength="35.2" lengthAdjust="spacingAndGlyphs">P18</text>
<line x1="926.6" y1="1331" x2="926.6" y2="1336" stroke="#000" stroke-width="1.14"/>
<text x="908.93" y="1356.6" font-size="21.2" textLength="35.16" lengthAdjust="spacingAndGlyphs">P19</text>
<line x1="61.5" y1="1319.5" x2="66.5" y2="1319.5" stroke="#000" stroke-width="1.14"/>
<text x="34.72" y="1325.2" font-size="15.15" textLength="20.89" lengthAdjust="spacingAndGlyphs">0.0</text>
<line x1="61.5" y1="1275" x2="66.5" y2="1275" stroke="#000" stroke-width="1.14"/>
<text x="34.73" y="1280.7" font-size="15.15" textLength="20.57" lengthAdjust="spacingAndGlyphs">0.5</text>
<line x1="61.5" y1="1230.6" x2="66.5" y2="1230.6" stroke="#000" stroke-width="1.14"/>
<text x="34.6" y="1236.3" font-size="15.15" textLength="21.02" lengthAdjust="spacingAndGlyphs">1.0</text>
<line x1="61.5" y1="1186.1" x2="66.5" y2="1186.1" stroke="#000" stroke-width="1.14"/>
<text x="34.62" y="1191.8" font-size="15.15" textLength="20.69" lengthAdjust="spacingAndGlyphs">1.5</text>
<line x1="61.5" y1="1141.7" x2="66.5" y2="1141.7" stroke="#000" stroke-width="1.14"/>
<text x="34.57" y="1147.4" font-size="15.15" textLength="21.04" lengthAdjust="spacingAndGlyphs">2.0</text>
<line x1="61.5" y1="1097.2" x2="66.5" y2="1097.2" stroke="#000" stroke-width="1.14"/>
<text x="34.58" y="1102.9" font-size="15.15" textLength="20.72" lengthAdjust="spacingAndGlyphs">2.5</text>
<line x1="61.5" y1="1053" x2="66.5" y2="1053" stroke="#000" stroke-width="1.14"/>
<text x="34.61" y="1058.7" font-size="15.15" textLength="21" lengthAdjust="spacingAndGlyphs">3.0</text>
<line x1="61.5" y1="1008.5" x2="66.5" y2="1008.5" stroke="#000" stroke-width="1.14"/>
<text x="34.63" y="1014.2" font-size="15.15" textLength="20.68" lengthAdjust="spacingAndGlyphs">3.5</text>
<rect x="839" y="1008.2" width="121.8" height="48.4" rx="2.5" fill="#fff" fill-opacity="0.8" stroke="#d6d6d6" stroke-width="1.1"/>
<path d="M858.8 1014.9L865.7 1021.8L858.8 1028.7L851.9 1021.8Z" fill="#ff0000"/>
<circle cx="858.8" cy="1044" r="5.15" fill="#228b22"/>
<text x="884.13" y="1025.7" font-size="15.15" textLength="62.25" lengthAdjust="spacingAndGlyphs">Pre-TAVR</text>
<text x="884.13" y="1047.8" font-size="15.15" textLength="68.96" lengthAdjust="spacingAndGlyphs">Post-TAVR</text>
</g>
</svg>
</body></html>
